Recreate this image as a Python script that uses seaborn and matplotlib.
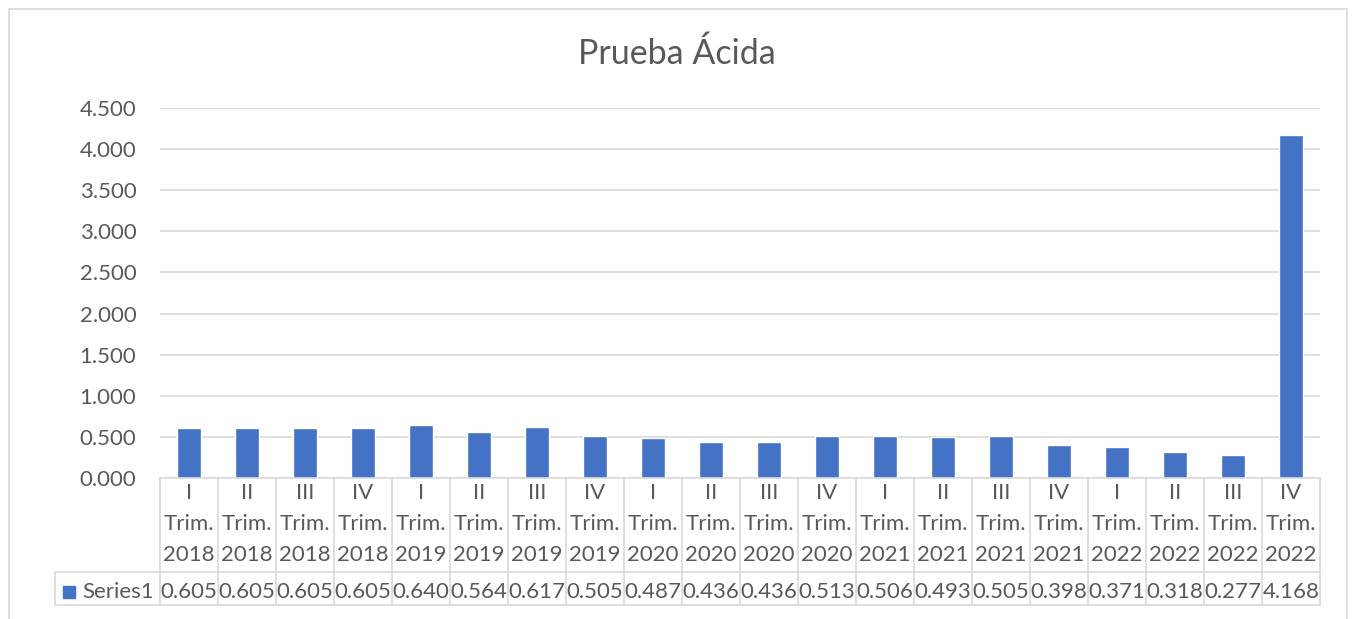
import pandas as pd
import seaborn as sns
import matplotlib.pyplot as plt
from matplotlib.lines import Line2D
from matplotlib.patches import Rectangle
import matplotlib.transforms as mtransforms

# data
quarters = ['I', 'II', 'III', 'IV'] * 5
years = ['2018'] * 4 + ['2019'] * 4 + ['2020'] * 4 + ['2021'] * 4 + ['2022'] * 4
values = [0.605, 0.605, 0.605, 0.605, 0.640, 0.564, 0.617, 0.505, 0.487, 0.436,
          0.436, 0.513, 0.506, 0.493, 0.505, 0.398, 0.371, 0.318, 0.277, 4.168]
series_name = 'Series1'
yticks = [0, 0.5, 1, 1.5, 2, 2.5, 3, 3.5, 4, 4.5]

labels = [q + '\nTrim.\n' + y for q, y in zip(quarters, years)]
df = pd.DataFrame({'periodo': labels, 'valor': values})

sns.set_style('white')
plt.rcParams['font.family'] = ['Lato', 'DejaVu Sans']
txt = '#595959'
grid = '#D9D9D9'
blue = '#4472C4'
fs = 16

fig = plt.figure(figsize=(13.54, 6.19), dpi=100)
ax = fig.add_axes([160/1354, 1-478/619, 1160/1354, 370/619])

sns.barplot(data=df, x='periodo', y='valor', color=blue, width=0.42, saturation=1, ax=ax)

ax.set_ylim(0, 4.5)
ax.set_xlim(-0.5, len(values) - 0.5)
ax.set_yticks(yticks)
ax.set_yticklabels([f'{t:.3f}' for t in yticks], color=txt, fontsize=fs)
ax.tick_params(axis='y', length=0, pad=17)
ax.set_xticks([])
ax.set_xlabel('')
ax.set_ylabel('')
ax.yaxis.grid(True, color=grid, linewidth=1.2)
ax.set_axisbelow(True)
for s in ['top', 'right', 'left']:
    ax.spines[s].set_visible(False)
ax.spines['bottom'].set_color(grid)
ax.spines['bottom'].set_linewidth(1.2)

fig.text(0.5, 1-54/619, 'Prueba Ácida', ha='center', va='center', fontsize=24.5, color=txt)

# data table under the axis
n = len(values)
y_head_bot = -94/370
y_row_bot = -127/370
y_mid = (y_head_bot + y_row_bot)/2 - 3/370
x_left = (55-160)/1160
lkw = dict(color=grid, linewidth=1.2, clip_on=False, transform=ax.transAxes)
for i in range(n + 1):
    ax.add_line(Line2D([i/n, i/n], [0, y_row_bot], **lkw))
ax.add_line(Line2D([x_left, 1], [y_head_bot, y_head_bot], **lkw))
ax.add_line(Line2D([x_left, 1], [y_row_bot, y_row_bot], **lkw))
ax.add_line(Line2D([x_left, x_left], [y_head_bot, y_row_bot], **lkw))

trans = mtransforms.blended_transform_factory(ax.transData, ax.transAxes)
for i, lab in enumerate(labels):
    ax.text(i, -5/370, lab, transform=trans, ha='center', va='top', fontsize=fs,
            color=txt, linespacing=1.68)
    ax.text(i, y_mid, f'{values[i]:.3f}', transform=trans,
            ha='center', va='center', fontsize=fs, color=txt)

ax.add_patch(Rectangle((x_left + 8/1160, y_mid - 6/370), 12/1160, 12/370,
                       transform=ax.transAxes, color=blue, clip_on=False))
ax.text(x_left + 27/1160, y_mid, series_name, transform=ax.transAxes,
        ha='left', va='center', fontsize=fs, color=txt)

# outer chart frame
fkw = dict(color=grid, linewidth=1.2, transform=fig.transFigure)
fig.add_artist(Line2D([9/1354, 9/1354], [0, 1-9/619], **fkw))
fig.add_artist(Line2D([9/1354, 1347/1354], [1-9/619, 1-9/619], **fkw))
fig.add_artist(Line2D([1347/1354, 1347/1354], [0, 1-9/619], **fkw))

fig.savefig('out.png', dpi=100)
